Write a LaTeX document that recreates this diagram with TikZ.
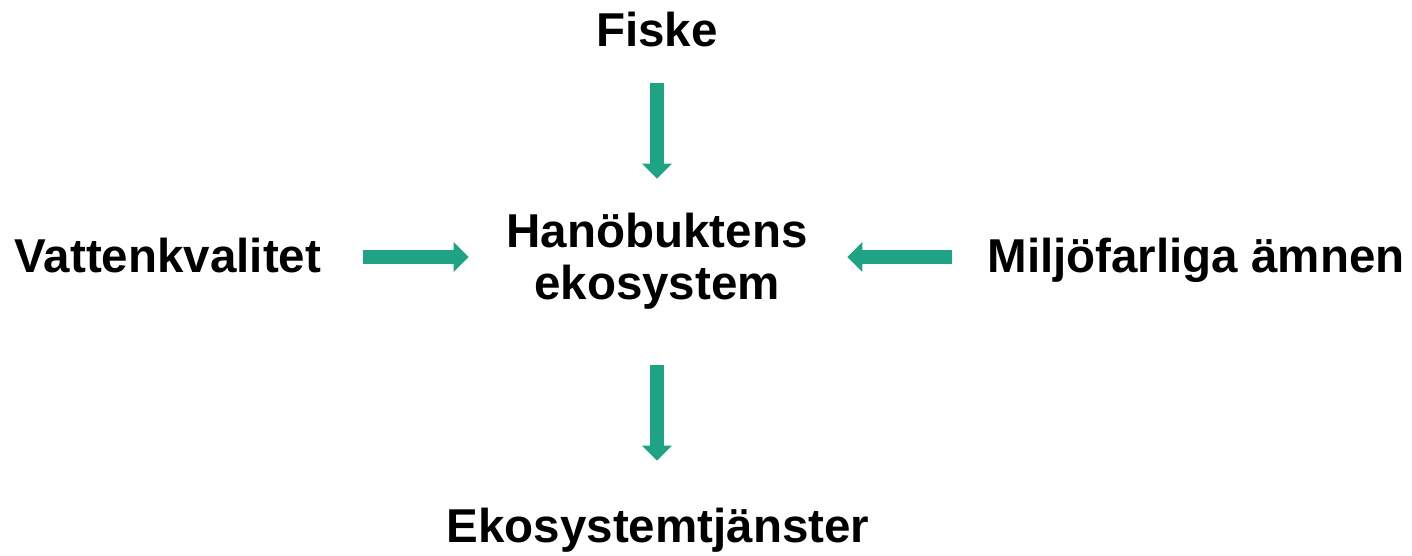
\documentclass[tikz,border=0pt]{standalone}
\usepackage{fontspec}
\setmainfont{Liberation Sans}
\usepackage{xcolor}
\usetikzlibrary{arrows.meta}
\usetikzlibrary{positioning}
\usetikzlibrary{calc}

\definecolor{flowgreen}{HTML}{1FA385}

\tikzset{
    factor/.style={inner sep=0pt, outer sep=0pt, align=center, font=\fontsize{47.5}{52}\selectfont\bfseries},
    flow/.style={draw=flowgreen, line width=14pt, -{Triangle[width=30pt,length=15pt,line width=0pt,fill=flowgreen]}}
}

\begin{document}
\begin{tikzpicture}[x=1pt, y=1pt]
            \useasboundingbox (0,0) rectangle (1412,-556);
            \node [factor, anchor=base] (hub) at (657,-299) {Hanöbuktens\\ekosystem};
            \node [factor, anchor=base] (fiske) at (657,-47) {Fiske};
            \node [factor, anchor=base] (vatten) at (168,-272) {Vattenkvalitet};
            \node [factor, anchor=base] (miljo) at (1196,-272) {Miljöfarliga ämnen};
            \node [factor, anchor=base] (tjanster) at (658,-542) {Ekosystemtjänster};

            \draw [flow, shorten <=36pt, shorten >=34pt] (fiske) -- (hub);
            \draw [flow, shorten <=56pt, shorten >=47pt] (hub.south) -- (hub.south |- tjanster.north);
            \draw [flow, shorten <=42pt, shorten >=38pt] ([yshift=15pt]vatten.base east) -- ([yshift=15pt]vatten.base east -| hub.west);
            \draw [flow, shorten <=36pt, shorten >=40pt] ([yshift=15pt]miljo.base west) -- ([yshift=15pt]miljo.base west -| hub.east);
        \end{tikzpicture}
\end{document}
